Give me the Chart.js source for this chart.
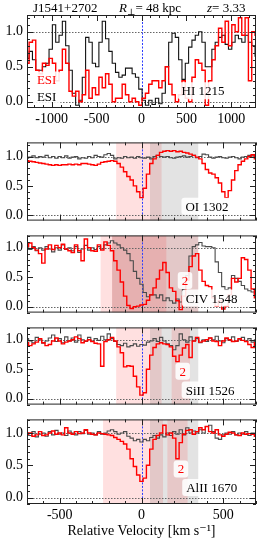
<!DOCTYPE html>
<html>
<head>
<meta charset="utf-8">
<script src="https://cdn.jsdelivr.net/npm/chart.js@4.4.1/dist/chart.umd.min.js"></script>
<style>
  html, body { margin: 0; padding: 0; background: #fff; }
  #wrap { position: relative; width: 263px; height: 544px; overflow: hidden; background: #fff; }
  #wrap canvas { position: absolute; left: 0; }
  .ttl { position: absolute; top: 0; font: 13px "Liberation Serif", "DejaVu Serif", serif; color: #000; line-height: 15px; white-space: nowrap; }
  .ttl sub { font-size: 9px; vertical-align: -3px; line-height: 0; }
</style>
</head>
<body>
<div id="wrap">
  <canvas id="cHI" width="263" height="130" style="top:0px"></canvas>
  <canvas id="cOI" width="263" height="103" style="top:130px"></canvas>
  <canvas id="cCIV" width="263" height="102" style="top:223px"></canvas>
  <canvas id="cSiII" width="263" height="102" style="top:315px"></canvas>
  <canvas id="cAlII" width="263" height="137" style="top:407px"></canvas>
  <div class="ttl" style="left:33px">J1541+2702</div>
  <div class="ttl" style="left:119px"><i>R</i><sub>⊥</sub>= 48 kpc</div>
  <div class="ttl" style="left:207px"><i>z</i>= 3.33</div>
</div>
<script>
const SERIF = '"Liberation Serif", "DejaVu Serif", serif';

// tick labels
const hiTicks = [-1000, -500, 0, 500, 1000];
const metalTicks = [-500, 0, 500];
const fluxTicks = [0, 0.5, 1];

// HI 1215 panel (velocity in km/s, normalized flux)
const velHI = [-1270,-1233,-1196,-1159,-1122,-1085,-1048,-1011,-974,-937,
  -900,-863,-826,-789,-752,-715,-678,-641,-604,-567,
  -530,-493,-456,-419,-382,-345,-308,-271,-234,-197,
  -160,-123,-86,-49,-12,25,62,99,136,173,
  210,247,284,321,358,395,432,469,506,543,
  580,617,654,691,728,765,802,839,876,913,
  950,987,1024,1061,1098,1135,1172,1209,1246,1283];
const hiRed = [0.55,0.85,0.88,0.45,0.4,0.55,0.52,0.62,0.55,0.3,
  0.45,0.75,0.55,0.15,0.08,0.15,0.0,0.1,0.45,0.05,
  0.2,0.1,0.35,0.2,0.4,0.25,0.0,0.05,0.05,0.25,
  0.1,0.0,0.05,0.0,-0.05,0.05,0.12,0.25,0.3,0.3,
  0.2,0.3,0.5,0.25,0.1,0.0,0.1,0.3,0.05,0.0,
  0.35,0.6,0.55,0.45,-0.05,0.3,0.6,0.8,1.05,0.85,
  1.15,0.8,1.1,1.0,1.2,0.95,1.2,0.3,1.0,0.95];
const hiBlack = [0.62,0.72,0.6,0.45,0.45,0.5,0.55,0.75,1.1,0.85,
  0.95,1.15,0.8,0.45,0.12,-0.05,0.02,0.35,0.92,0.85,
  0.55,0.5,0.85,1.15,0.9,0.72,0.55,0.42,0.35,0.38,
  0.48,0.48,0.4,0.35,0.18,0.02,-0.05,0.02,-0.04,0.05,
  -0.03,0.12,0.5,0.85,0.98,0.92,0.6,0.32,0.55,0.78,
  0.88,0.95,1.0,0.85,0.5,0.5,0.75,0.85,0.92,0.95,
  0.82,0.75,0.85,0.95,0.9,0.85,0.95,0.85,0.8,0.65];

// metal-line panels share one velocity grid
const velMetal = [-700,-680,-660,-640,-620,-600,-580,-560,-540,-520,
  -500,-480,-460,-440,-420,-400,-380,-360,-340,-320,
  -300,-280,-260,-240,-220,-200,-180,-160,-140,-120,
  -100,-80,-60,-40,-20,0,20,40,60,80,
  100,120,140,160,180,200,220,240,260,280,
  300,320,340,360,380,400,420,440,460,480,
  500,520,540,560,580,600,620,640,660,680,
  700];

const oiRed = [0.93,0.92,0.91,0.9,0.89,0.88,0.87,0.86,0.85,0.86,
  0.85,0.86,0.86,0.87,0.86,0.87,0.86,0.88,0.88,0.87,
  0.86,0.85,0.87,0.9,0.91,0.92,0.93,0.92,0.88,0.82,
  0.74,0.66,0.6,0.5,0.4,0.3,0.46,0.7,0.88,0.96,
  1.02,1.07,1.09,1.1,1.09,1.1,1.08,1.09,1.07,1.06,
  1.04,1.02,0.99,0.96,0.88,0.78,0.72,0.7,0.64,0.55,
  0.4,0.3,0.42,0.6,0.76,0.86,0.92,0.96,1.0,1.03,
  0.96];
const oiBlack = [0.97,0.99,1.01,0.98,1.0,0.99,1.02,0.98,1.0,0.97,
  1.0,0.98,1.01,0.97,0.99,1.0,0.96,0.98,0.97,1.0,
  0.98,1.02,1.0,0.99,1.03,1.05,1.02,0.96,0.98,0.97,
  1.0,0.98,0.99,0.97,1.0,0.98,0.97,0.99,0.96,1.0,
  1.02,1.0,0.99,1.0,0.98,0.97,0.99,1.0,1.01,0.99,
  1.0,1.02,0.98,1.0,1.04,1.03,0.99,0.97,0.99,1.0,
  0.98,0.97,0.99,1.0,0.98,0.96,0.99,1.0,1.02,1.01,
  0.98];

const civRed = [1.02,1.08,1.0,0.96,0.9,0.74,0.98,1.05,0.97,1.04,
  1.0,1.06,0.98,0.95,0.92,1.05,0.95,0.78,1.15,1.0,
  0.95,0.94,1.05,0.96,1.1,1.04,0.95,0.78,0.62,0.42,
  0.18,0.02,-0.03,0.0,0.01,0.03,0.04,0.11,0.2,0.32,
  0.47,0.62,0.75,0.58,0.32,0.26,0.1,-0.05,0.18,0.45,
  0.68,0.86,0.9,0.62,0.43,0.36,0.34,0.15,0.01,0.1,
  -0.04,0.01,0.2,0.48,0.42,0.48,0.83,0.8,0.62,0.3,
  0.15];
const civBlack = [1.0,0.97,1.02,0.95,1.0,0.96,1.02,0.98,0.93,1.0,
  0.96,1.05,0.97,1.0,0.95,1.02,0.92,0.98,1.04,0.96,
  1.0,0.97,1.02,0.98,1.05,1.08,1.12,1.08,1.05,1.0,
  0.96,0.9,0.78,0.6,0.48,0.38,0.24,0.17,0.2,0.2,
  0.15,0.2,0.1,0.15,0.1,0.06,0.13,0.08,0.29,0.53,
  0.86,1.02,1.05,1.09,1.03,1.02,1.02,1.0,0.76,0.58,
  0.34,0.29,0.32,0.53,0.48,0.43,0.36,0.3,0.27,0.25,
  0.22];

const siiRed = [0.95,0.9,0.93,0.96,1.02,0.95,0.9,0.92,0.98,1.03,
  0.98,0.93,0.96,0.98,1.0,1.05,1.02,0.95,0.98,1.0,
  0.97,0.94,0.93,0.55,0.97,1.0,1.04,0.98,0.88,0.78,
  0.54,0.56,0.55,0.38,0.2,0.06,0.1,0.5,0.74,0.87,
  0.93,0.95,0.93,0.92,0.88,0.72,0.63,0.74,0.86,0.92,
  0.7,0.98,1.04,0.96,0.98,1.0,1.03,0.98,0.97,0.9,
  0.98,1.03,1.0,0.97,0.98,1.02,0.99,0.97,0.92,0.87,
  0.95];
const siiBlack = [1.02,0.98,0.95,1.04,1.0,0.94,0.98,1.03,1.08,0.97,
  1.02,0.95,1.05,0.98,1.03,0.96,1.08,1.0,0.97,1.04,
  0.98,1.02,0.99,1.06,1.0,1.1,1.02,0.97,0.92,0.9,
  0.94,0.88,0.9,0.93,0.89,0.92,0.91,0.96,0.98,1.02,
  0.97,1.04,0.98,0.93,0.9,0.83,0.9,1.1,1.0,0.96,
  1.05,0.98,1.02,0.95,1.0,0.97,1.03,1.0,1.06,0.98,
  0.95,1.02,0.99,1.05,0.97,1.0,1.04,0.98,1.02,0.96,
  1.0];

const aliiRed = [0.98,1.0,0.95,0.97,1.02,0.96,0.97,1.0,1.03,0.98,
  1.0,0.97,1.08,1.0,0.98,1.02,0.99,1.0,1.05,1.0,
  0.98,0.97,1.0,0.99,0.98,0.97,0.96,0.93,0.9,0.87,
  0.83,0.75,0.6,0.48,0.35,0.25,0.3,0.5,0.75,0.9,
  0.96,1.0,1.12,0.97,1.0,0.92,0.6,0.85,0.98,1.04,
  1.05,0.98,1.02,1.08,1.05,1.1,1.02,1.0,1.05,0.97,
  0.95,0.98,1.01,1.0,0.97,0.96,1.0,0.98,0.99,0.98,
  0.95];
const aliiBlack = [1.0,0.96,1.02,0.94,0.98,1.0,0.95,1.02,0.97,1.04,
  0.98,1.0,0.96,1.03,1.0,0.97,1.02,0.99,1.04,0.98,
  1.0,0.97,1.02,0.98,1.0,1.03,1.05,1.02,0.98,1.0,
  1.02,0.95,0.92,0.88,0.9,0.86,0.9,0.88,0.93,0.96,
  0.92,0.97,0.94,1.0,0.96,1.02,0.98,1.05,0.97,1.08,
  1.0,1.03,1.0,1.05,1.0,1.1,1.12,1.02,0.92,0.9,
  0.97,1.0,0.98,1.02,0.97,1.0,0.98,1.02,0.96,1.0,
  0.98];

// velocity windows shaded in each panel [from, to, kind]
const oiBands = [[-155, 123, 'pink'], [52, 347, 'gray']];
const civBands = [[-250, 347, 'pink'], [-180, 347, 'gray'], [-180, 152, 'pink']];
const siiBands = [[-155, 123, 'pink'], [52, 347, 'gray'], [184, 297, 'pink']];
const aliiBands = [[-235, 132, 'pink'], [52, 347, 'gray'], [158, 282, 'pink']];

const PINK = 'rgba(255,0,0,0.12)';
const GRAY = 'rgba(0,0,0,0.11)';

const panelDecor = {
  id: 'panelDecor',
  beforeDatasetsDraw(chart, args, opts) {
    const { ctx, chartArea: a, scales: { x, y } } = chart;
    ctx.save();
    ctx.beginPath();
    ctx.rect(a.left, a.top, a.right - a.left, a.bottom - a.top);
    ctx.clip();
    (opts.bands || []).forEach(b => {
      const x0 = x.getPixelForValue(b[0]);
      const x1 = x.getPixelForValue(b[1]);
      ctx.fillStyle = b[2] === 'pink' ? PINK : GRAY;
      ctx.fillRect(x0, a.top, x1 - x0, a.bottom - a.top);
    });
    // dotted continuum and zero lines
    ctx.strokeStyle = '#666';
    ctx.lineWidth = 1;
    ctx.setLineDash([1.5, 1.5]);
    [0, 1].forEach(v => {
      const py = Math.round(y.getPixelForValue(v)) + 0.5;
      ctx.beginPath(); ctx.moveTo(a.left, py); ctx.lineTo(a.right, py); ctx.stroke();
    });
    // systemic velocity
    ctx.strokeStyle = '#2b3cff';
    ctx.setLineDash([2, 1.5]);
    const px = Math.round(x.getPixelForValue(0)) + 0.5;
    ctx.beginPath(); ctx.moveTo(px, a.top); ctx.lineTo(px, a.bottom); ctx.stroke();
    ctx.restore();
  },
  afterDatasetsDraw(chart, args, opts) {
    const { ctx, scales: { x, y } } = chart;
    ctx.save();
    (opts.labels || []).forEach(l => {
      ctx.font = '13px ' + SERIF;
      const w = ctx.measureText(l.text).width;
      const cx = x.getPixelForValue(l.v);
      const cy = y.getPixelForValue(l.f);
      const bw = w + 8, bh = 17;
      ctx.fillStyle = 'rgba(255,255,255,0.88)';
      ctx.beginPath();
      if (ctx.roundRect) ctx.roundRect(cx - bw / 2, cy - bh / 2, bw, bh, 3);
      else ctx.rect(cx - bw / 2, cy - bh / 2, bw, bh);
      ctx.fill();
      ctx.fillStyle = l.color;
      ctx.textAlign = 'center';
      ctx.textBaseline = 'middle';
      ctx.fillText(l.text, cx, cy + 1);
    });
    ctx.restore();
  },
  afterDraw(chart, args, opts) {
    const { ctx, chartArea: a, scales: { x, y } } = chart;
    ctx.save();
    ctx.strokeStyle = '#222';
    ctx.lineWidth = 1;
    ctx.strokeRect(a.left + 0.5, a.top + 0.5, a.right - a.left - 1, a.bottom - a.top - 1);
    ctx.beginPath();
    for (let k = Math.ceil(x.min / 100); k * 100 <= x.max; k++) {
      const L = k % 5 === 0 ? 6 : 3;
      const px = Math.round(x.getPixelForValue(k * 100)) + 0.5;
      ctx.moveTo(px, a.top); ctx.lineTo(px, a.top + L);
      ctx.moveTo(px, a.bottom); ctx.lineTo(px, a.bottom - L);
    }
    for (let k = Math.ceil(y.min * 10); k / 10 <= y.max; k++) {
      const L = k % 5 === 0 ? 6 : 3;
      const py = Math.round(y.getPixelForValue(k / 10)) + 0.5;
      ctx.moveTo(a.left, py); ctx.lineTo(a.left + L, py);
      ctx.moveTo(a.right, py); ctx.lineTo(a.right - L, py);
    }
    ctx.stroke();
    ctx.restore();
  }
};

function panel(id, o) {
  return new Chart(document.getElementById(id), {
    type: 'line',
    data: {
      datasets: [
        { data: o.vel.map((v, i) => ({ x: v, y: o.red[i] })), borderColor: '#ff0000', borderWidth: 1.4,
          stepped: 'middle', pointRadius: 0, fill: false },
        { data: o.vel.map((v, i) => ({ x: v, y: o.black[i] })), borderColor: o.blackColor, borderWidth: 1.1,
          stepped: 'middle', pointRadius: 0, fill: false }
      ]
    },
    options: {
      responsive: false,
      animation: false,
      devicePixelRatio: 1,
      layout: { padding: { top: o.padTop, right: 7, left: 0, bottom: 0 } },
      plugins: {
        legend: { display: false },
        tooltip: { enabled: false },
        panelDecor: { bands: o.bands, labels: o.labels }
      },
      scales: {
        x: {
          type: 'linear', min: o.xMin, max: o.xMax,
          grid: { display: false, drawTicks: false }, border: { display: false },
          ticks: { display: o.xLabels, padding: 3, maxRotation: 0, autoSkip: false, color: '#000',
                   font: { family: SERIF, size: 14 }, callback: v => String(v) },
          afterBuildTicks: s => { s.ticks = o.xTicks.map(v => ({ value: v })); },
          title: { display: !!o.xTitle, text: o.xTitle || '', color: '#000',
                   font: { family: SERIF, size: 14 }, padding: { top: 0, bottom: 4 } },
          afterFit: s => { s.height = o.xAxisH; }
        },
        y: {
          min: o.yMin, max: o.yMax,
          grid: { display: false, drawTicks: false }, border: { display: false },
          ticks: { padding: 4, color: '#000', autoSkip: false,
                   font: { family: SERIF, size: 14 }, callback: v => Number(v).toFixed(1) },
          afterBuildTicks: s => { s.ticks = fluxTicks.map(v => ({ value: v })); },
          afterFit: s => { s.width = 27; }
        }
      }
    },
    plugins: [panelDecor]
  });
}

const metalBase = { vel: velMetal, xMin: -700, xMax: 700, xTicks: metalTicks, blackColor: '#4a4a4a',
                    padTop: 5, xAxisH: 5, xLabels: false, yMin: -0.1, yMax: 1.21 };

panel('cHI', {
  vel: velHI, red: hiRed, black: hiBlack, blackColor: '#111', xMin: -1275, xMax: 1275, xTicks: hiTicks,
  padTop: 15, xAxisH: 22, xLabels: true, yMin: -0.09, yMax: 1.24, bands: [],
  labels: [
    { text: 'ESI', v: -1056, f: 0.31, color: '#ff0000' },
    { text: 'ESI', v: -1056, f: 0.07, color: '#000' },
    { text: 'HI 1215', v: 685, f: 0.157, color: '#000' }
  ]
});
panel('cOI', Object.assign({}, metalBase, {
  red: oiRed, black: oiBlack, bands: oiBands, yMin: -0.09, yMax: 1.24,
  labels: [{ text: 'OI 1302', v: 400, f: 0.153, color: '#000' }]
}));
panel('cCIV', Object.assign({}, metalBase, {
  red: civRed, black: civBlack, bands: civBands,
  labels: [{ text: '2', v: 266, f: 0.443, color: '#ff0000' }, { text: 'CIV 1548', v: 429, f: 0.146, color: '#000' }]
}));
panel('cSiII', Object.assign({}, metalBase, {
  red: siiRed, black: siiBlack, bands: siiBands,
  labels: [{ text: '2', v: 252, f: 0.464, color: '#ff0000' }, { text: 'SiII 1526', v: 419, f: 0.146, color: '#000' }]
}));
panel('cAlII', Object.assign({}, metalBase, {
  red: aliiRed, black: aliiBlack, bands: aliiBands, xAxisH: 40, xLabels: true,
  xTitle: 'Relative Velocity [km s\u207B\u00B9]',
  labels: [{ text: '2', v: 241, f: 0.443, color: '#ff0000' }, { text: 'AlII 1670', v: 429, f: 0.157, color: '#000' }]
}));
</script>
</body>
</html>
